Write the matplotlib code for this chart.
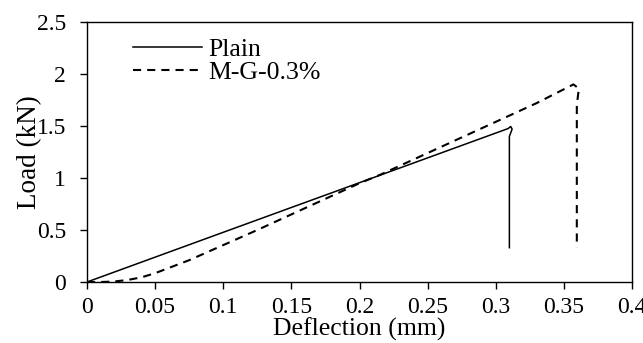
import matplotlib.pyplot as plt

plt.rcParams['font.family'] = ['Liberation Serif', 'DejaVu Serif']

# Plain specimen
plain_x = [0.0, 0.1, 0.2, 0.309, 0.311, 0.312, 0.310, 0.310]
plain_y = [0.0, 0.478, 0.955, 1.475, 1.495, 1.47, 1.40, 0.33]

# M-G-0.3% specimen
mg_x = [0.0, 0.01, 0.02, 0.03, 0.04, 0.05, 0.075, 0.1, 0.125, 0.15, 0.175,
        0.2, 0.215, 0.25, 0.3, 0.33, 0.357, 0.361, 0.3595, 0.3595]
mg_y = [0.0, 0.0, 0.005, 0.02, 0.045, 0.085, 0.21, 0.355, 0.5, 0.65, 0.8,
        0.95, 1.03, 1.24, 1.54, 1.72, 1.90, 1.86, 1.70, 0.33]

fig, ax = plt.subplots(figsize=(6.43, 3.43), dpi=100)
ax.plot(plain_x, plain_y, color='black', lw=1.1, label='Plain')
ax.plot(mg_x, mg_y, color='black', lw=1.5, ls=(0, (3.9, 2.9)), label='M-G-0.3%')

ax.set_xlim(0, 0.4)
ax.set_ylim(0, 2.5)
ax.set_xticks([0, 0.05, 0.1, 0.15, 0.2, 0.25, 0.3, 0.35, 0.4])
ax.set_xticklabels(['0', '0.05', '0.1', '0.15', '0.2', '0.25', '0.3', '0.35', '0.4'])
ax.set_yticks([0, 0.5, 1, 1.5, 2, 2.5])
ax.set_yticklabels(['0', '0.5', '1', '1.5', '2', '2.5'])
ax.tick_params(labelsize=17, direction='out', length=5, width=1)
ax.tick_params(axis='x', pad=6)
ax.tick_params(axis='y', pad=10)
ax.set_xlabel('Deflection (mm)', fontsize=18.5)
ax.set_ylabel('Load (kN)', fontsize=19.5)
ax.xaxis.set_label_coords(0.5, -0.136)
ax.yaxis.set_label_coords(-0.082, 0.5)
for s in ax.spines.values():
    s.set_linewidth(1)

ax.legend(loc='upper left', frameon=False, fontsize=18.5, handlelength=2.7,
          bbox_to_anchor=(0.084, 0.94), borderaxespad=0, borderpad=0,
          labelspacing=0.0, handletextpad=0.25)

fig.subplots_adjust(left=0.1353, right=0.9829, bottom=0.1778, top=0.9359)
fig.savefig('out.png', dpi=100)
